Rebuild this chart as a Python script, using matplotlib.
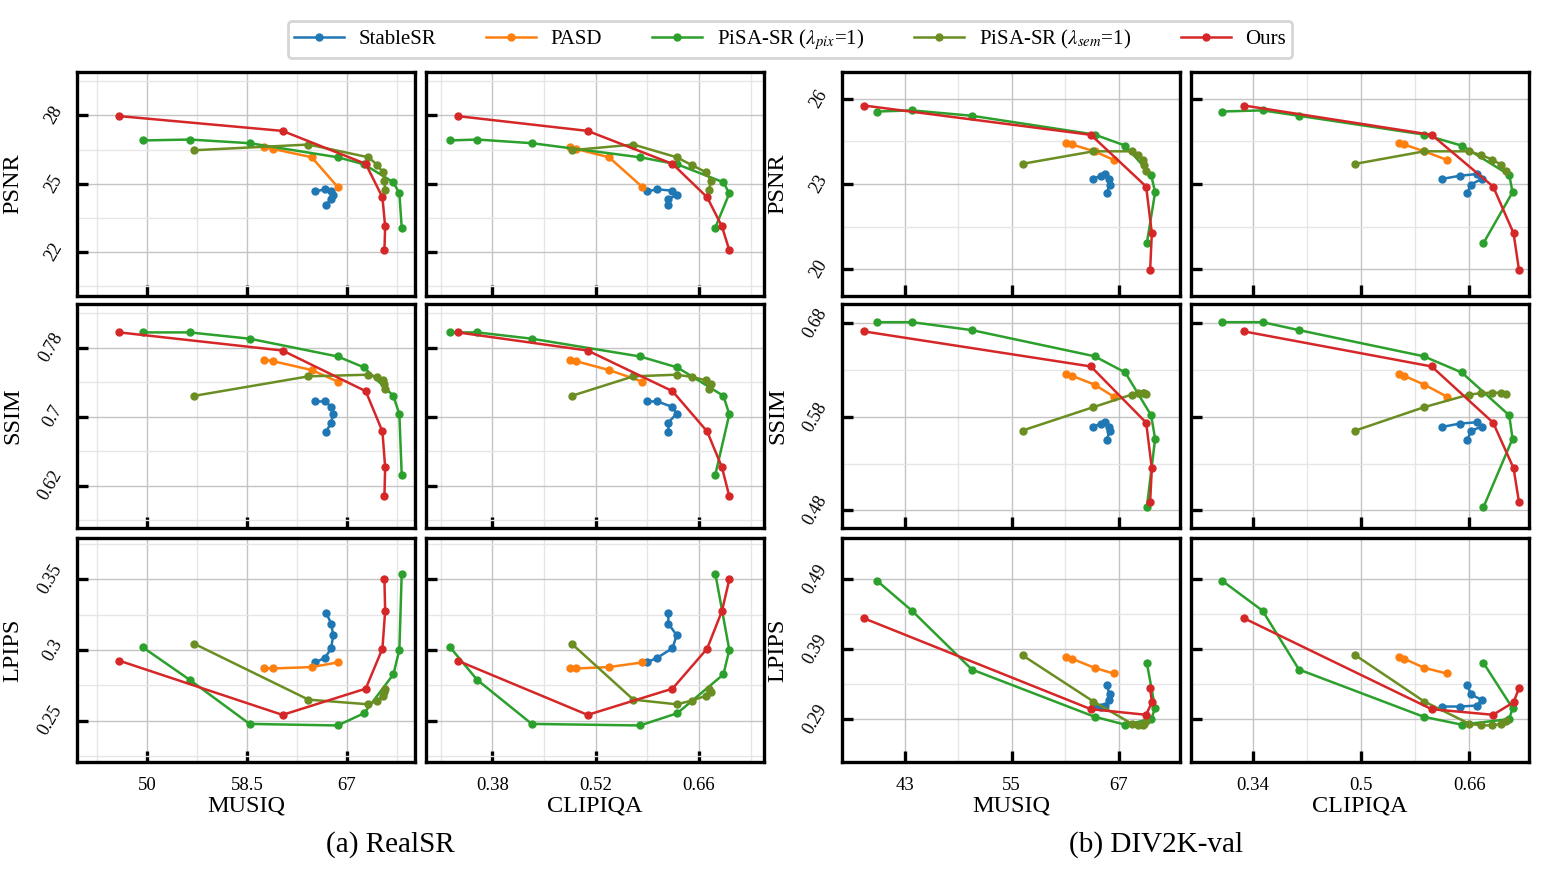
import matplotlib
matplotlib.use("Agg")
import matplotlib.pyplot as plt
from matplotlib.ticker import FixedLocator

plt.rcParams['font.family'] = 'serif'
plt.rcParams['font.serif'] = ['Liberation Serif', 'DejaVu Serif']
plt.rcParams['mathtext.fontset'] = 'stix'

# ---------------- RealSR ----------------
rs_stablesr_musiq = [64.31, 65.16, 65.67, 65.84, 65.67, 65.24]
rs_stablesr_clipiqa = [0.589, 0.6035, 0.624, 0.6297, 0.6184, 0.6184]
rs_stablesr_psnr = [24.66, 24.75, 24.69, 24.51, 24.32, 24.07]
rs_stablesr_ssim = [0.7176, 0.7176, 0.7112, 0.7035, 0.6932, 0.6825]
rs_stablesr_lpips = [0.2912, 0.2945, 0.3013, 0.3105, 0.3187, 0.3265]

rs_pasd_musiq = [59.92, 60.71, 64.02, 66.23]
rs_pasd_clipiqa = [0.4852, 0.4929, 0.538, 0.5832]
rs_pasd_psnr = [26.60, 26.53, 26.16, 24.85]
rs_pasd_ssim = [0.7662, 0.7643, 0.754, 0.7406]
rs_pasd_lpips = [0.2869, 0.2869, 0.2879, 0.2912]

rs_pix_musiq = [49.63, 53.63, 58.73, 66.23, 68.47, 70.96, 71.47, 71.67]
rs_pix_clipiqa = [0.3226, 0.3592, 0.4333, 0.580, 0.6306, 0.693, 0.701, 0.682]
rs_pix_psnr = [26.90, 26.94, 26.78, 26.16, 25.85, 25.06, 24.57, 23.07]
rs_pix_ssim = [0.7976, 0.7976, 0.7903, 0.7697, 0.757, 0.7241, 0.7027, 0.6326]
rs_pix_lpips = [0.302, 0.2789, 0.2476, 0.2465, 0.2552, 0.2827, 0.3001, 0.3542]

rs_sem_musiq = [54.02, 63.74, 68.84, 69.60, 70.06, 70.20, 70.26]
rs_sem_clipiqa = [0.4875, 0.571, 0.6297, 0.650, 0.6695, 0.6762, 0.6735]
rs_sem_psnr = [26.47, 26.72, 26.16, 25.82, 25.50, 25.13, 24.74]
rs_sem_ssim = [0.7241, 0.7467, 0.7486, 0.746, 0.7421, 0.738, 0.7318]
rs_sem_lpips = [0.3044, 0.2648, 0.2615, 0.2641, 0.2676, 0.270, 0.2724]

rs_ours_musiq = [47.65, 61.53, 68.61, 70.03, 70.26, 70.20]
rs_ours_clipiqa = [0.333, 0.509, 0.624, 0.671, 0.691, 0.701]
rs_ours_psnr = [27.97, 27.32, 25.87, 24.40, 23.12, 22.07]
rs_ours_ssim = [0.7976, 0.7766, 0.7295, 0.6828, 0.6414, 0.6077]
rs_ours_lpips = [0.2924, 0.254, 0.2726, 0.301, 0.3276, 0.350]

# ---------------- DIV2K-val ----------------
dv_stablesr_musiq = [64.12, 65.02, 65.50, 65.88, 65.99, 65.69]
dv_stablesr_clipiqa = [0.620, 0.6457, 0.6709, 0.6783, 0.662, 0.657]
dv_stablesr_psnr = [23.18, 23.29, 23.35, 23.18, 22.98, 22.68]
dv_stablesr_ssim = [0.5693, 0.5728, 0.5742, 0.5696, 0.565, 0.5551]
dv_stablesr_lpips = [0.3084, 0.3084, 0.3098, 0.3178, 0.3258, 0.3391]

dv_pasd_musiq = [61.13, 61.76, 64.31, 66.44]
dv_pasd_clipiqa = [0.5563, 0.5632, 0.5933, 0.6264]
dv_pasd_psnr = [24.44, 24.39, 24.15, 23.85]
dv_pasd_ssim = [0.6257, 0.6239, 0.6144, 0.6017]
dv_pasd_lpips = [0.3791, 0.3768, 0.3636, 0.3556]

dv_pix_musiq = [39.93, 43.82, 50.55, 64.31, 67.75, 70.66, 71.11, 70.18]
dv_pix_clipiqa = [0.2951, 0.3543, 0.4081, 0.5923, 0.6486, 0.7188, 0.7237, 0.6807]
dv_pix_psnr = [25.55, 25.59, 25.40, 24.74, 24.35, 23.32, 22.71, 20.92]
dv_pix_ssim = [0.6811, 0.6811, 0.6726, 0.6447, 0.6274, 0.5816, 0.5566, 0.4835]
dv_pix_lpips = [0.4876, 0.4452, 0.3612, 0.2938, 0.2825, 0.2905, 0.3060, 0.3707]

dv_sem_musiq = [56.23, 64.19, 68.49, 69.24, 69.73, 69.88, 70.06]
dv_sem_clipiqa = [0.4916, 0.5933, 0.6595, 0.6768, 0.694, 0.7064, 0.7138]
dv_sem_psnr = [23.71, 24.15, 24.15, 24.02, 23.86, 23.68, 23.47]
dv_sem_ssim = [0.5654, 0.5904, 0.6038, 0.6052, 0.6059, 0.6056, 0.6045]
dv_sem_lpips = [0.3815, 0.3155, 0.2839, 0.2815, 0.2815, 0.2834, 0.2876]

dv_ours_musiq = [38.44, 63.90, 70.10, 70.74, 70.55]
dv_ours_clipiqa = [0.3272, 0.6042, 0.695, 0.7252, 0.7331]
dv_ours_psnr = [25.76, 24.73, 22.91, 21.27, 19.99]
dv_ours_ssim = [0.6712, 0.6338, 0.5738, 0.5252, 0.4895]
dv_ours_lpips = [0.4343, 0.3046, 0.2966, 0.3145, 0.3343]

method_names = ["StableSR", "PASD", r"PiSA-SR ($\lambda_{pix}$=1)",
                r"PiSA-SR ($\lambda_{sem}$=1)", "Ours"]
colors = ["#1f77b4", "#ff7f0e", "#2ca02c", "#6b8e23", "#d62728"]

def pack(m, c, p, s, l):
    return {"MUSIQ": m, "CLIPIQA": c, "PSNR": p, "SSIM": s, "LPIPS": l}

realsr = [
    pack(rs_stablesr_musiq, rs_stablesr_clipiqa, rs_stablesr_psnr, rs_stablesr_ssim, rs_stablesr_lpips),
    pack(rs_pasd_musiq, rs_pasd_clipiqa, rs_pasd_psnr, rs_pasd_ssim, rs_pasd_lpips),
    pack(rs_pix_musiq, rs_pix_clipiqa, rs_pix_psnr, rs_pix_ssim, rs_pix_lpips),
    pack(rs_sem_musiq, rs_sem_clipiqa, rs_sem_psnr, rs_sem_ssim, rs_sem_lpips),
    pack(rs_ours_musiq, rs_ours_clipiqa, rs_ours_psnr, rs_ours_ssim, rs_ours_lpips),
]
div2k = [
    pack(dv_stablesr_musiq, dv_stablesr_clipiqa, dv_stablesr_psnr, dv_stablesr_ssim, dv_stablesr_lpips),
    pack(dv_pasd_musiq, dv_pasd_clipiqa, dv_pasd_psnr, dv_pasd_ssim, dv_pasd_lpips),
    pack(dv_pix_musiq, dv_pix_clipiqa, dv_pix_psnr, dv_pix_ssim, dv_pix_lpips),
    pack(dv_sem_musiq, dv_sem_clipiqa, dv_sem_psnr, dv_sem_ssim, dv_sem_lpips),
    pack(dv_ours_musiq, dv_ours_clipiqa, dv_ours_psnr, dv_ours_ssim, dv_ours_lpips),
]

# axis settings: (limits, major ticks, tick labels, minor grid)
x_axes = {
    ("rs", "MUSIQ"): ((44.05, 72.8), [50, 58.5, 67], ["50", "58.5", "67"], [45.75, 54.25, 62.75, 71.25]),
    ("rs", "CLIPIQA"): ((0.290, 0.748), [0.38, 0.52, 0.66], ["0.38", "0.52", "0.66"], [0.31, 0.45, 0.59, 0.73]),
    ("dv", "MUSIQ"): ((35.97, 73.9), [43, 55, 67], ["43", "55", "67"], [49, 61]),
    ("dv", "CLIPIQA"): ((0.2486, 0.748), [0.34, 0.5, 0.66], ["0.34", "0.5", "0.66"], [0.42, 0.58]),
}
y_axes = {
    ("rs", "PSNR"): ((20.06, 29.91), [22, 25, 28], ["22", "25", "28"], [20.5, 23.5, 26.5, 29.5]),
    ("rs", "SSIM"): ((0.571, 0.8305), [0.62, 0.7, 0.78], ["0.62", "0.7", "0.78"], [0.58, 0.66, 0.74, 0.82]),
    ("rs", "LPIPS"): ((0.2206, 0.3794), [0.25, 0.3, 0.35], ["0.25", "0.3", "0.35"], [0.225, 0.275, 0.325, 0.375]),
    ("dv", "PSNR"): ((19.06, 26.94), [20, 23, 26], ["20", "23", "26"], [21.5, 24.5]),
    ("dv", "SSIM"): ((0.4613, 0.7005), [0.48, 0.58, 0.68], ["0.48", "0.58", "0.68"], [0.53, 0.63]),
    ("dv", "LPIPS"): ((0.2292, 0.549), [0.29, 0.39, 0.49], ["0.29", "0.39", "0.49"], [0.34, 0.44]),
}

W, H = 1542, 877
fig = plt.figure(figsize=(W / 100, H / 100), dpi=100)

col_left = [77, 426, 842, 1191]
col_w = 338
row_top = [72, 304, 538]
row_h = 224
rows = ["PSNR", "SSIM", "LPIPS"]
cols = [("rs", "MUSIQ", realsr), ("rs", "CLIPIQA", realsr),
        ("dv", "MUSIQ", div2k), ("dv", "CLIPIQA", div2k)]

handles = []
for r, ymet in enumerate(rows):
    for c, (dkey, xmet, data) in enumerate(cols):
        ax = fig.add_axes([col_left[c] / W, 1 - (row_top[r] + row_h) / H, col_w / W, row_h / H])
        for k, series in enumerate(data):
            ln, = ax.plot(series[xmet], series[ymet], '-o', color=colors[k],
                          lw=1.8, ms=5, label=method_names[k])
            if r == 0 and c == 0:
                handles.append(ln)

        xlim, xt, xtl, xmin = x_axes[(dkey, xmet)]
        ylim, yt, ytl, ymin = y_axes[(dkey, ymet)]
        ax.set_xlim(*xlim)
        ax.set_ylim(*ylim)
        ax.set_xticks(xt)
        ax.set_yticks(yt)
        ax.xaxis.set_minor_locator(FixedLocator(xmin))
        ax.yaxis.set_minor_locator(FixedLocator(ymin))

        if r == 2:
            ax.set_xticklabels(xtl, fontsize=13.5)
            ax.set_xlabel(xmet, fontsize=17.5, labelpad=1)
        else:
            ax.set_xticklabels([])
        if c in (0, 2):
            ax.set_yticklabels(ytl, fontsize=13, rotation=60, va='center')
            ax.set_ylabel(ymet, fontsize=17.5)
            ax.yaxis.set_label_coords(-0.16, 0.5)
        else:
            ax.set_yticklabels([])

        ax.tick_params(which='major', direction='in', length=8, width=2.4,
                       top=False, right=False)
        ax.tick_params(axis='x', which='major', pad=11)
        ax.tick_params(axis='y', which='major', pad=8)
        ax.tick_params(which='minor', length=0)
        ax.grid(which='major', color='#c4c4c4', lw=1)
        ax.grid(which='minor', color='#e6e6e6', lw=1)
        ax.set_axisbelow(True)
        for sp in ax.spines.values():
            sp.set_linewidth(2.4)

leg = fig.legend(handles, method_names, loc='upper center',
                 bbox_to_anchor=(790 / W, 1 - 21 / H), ncol=5, fontsize=15,
                 frameon=True, fancybox=True, edgecolor='#cccccc',
                 handlelength=2.4, columnspacing=2.4, handletextpad=0.7,
                 borderpad=0.3, borderaxespad=0)
leg.get_frame().set_linewidth(2)

fig.text(390 / W, 1 - 845 / H, "(a) RealSR", fontsize=21, ha='center', va='center')
fig.text(1156 / W, 1 - 845 / H, "(b) DIV2K-val", fontsize=21, ha='center', va='center')

fig.savefig("out.png", dpi=100)
